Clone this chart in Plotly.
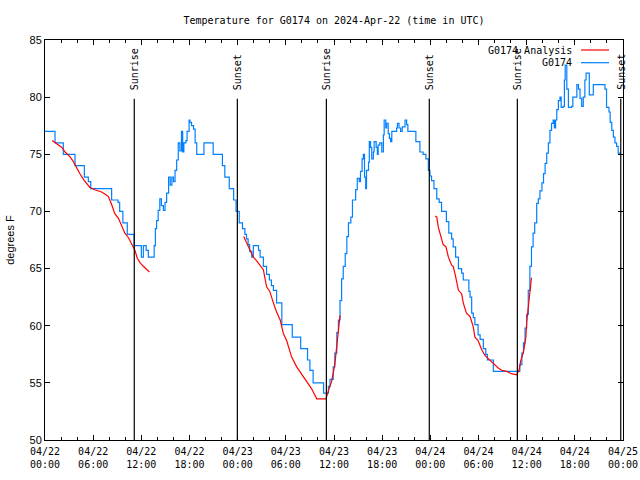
import pandas as pd
import plotly.graph_objects as go

BASE = pd.Timestamp("2024-04-22 00:00")

# G0174 observations (hours since 04/22 00:00 UTC, degrees F)
obs_hours = [0, 1.25, 2.28, 3.74, 4.9, 5.4, 5.7, 8.3, 9.1, 9.3, 9.7, 10.25, 11.1,
             12.0, 12.25, 12.6, 12.87, 13.4, 13.6, 13.75, 13.9, 14.1, 14.3, 14.5, 14.75, 14.95,
             15.15, 15.4, 15.6, 15.8, 16.0, 16.2, 16.4, 16.6, 16.8, 17.0, 17.15, 17.3, 17.55,
             17.7, 17.95, 18.05, 18.25, 18.5, 18.7, 18.9, 19.8, 20.95, 22.1, 22.4, 22.95, 23.5,
             23.8, 24.2, 24.6, 24.9, 25.1, 25.3, 25.5, 25.75, 25.95, 26.6, 26.8, 27.2, 27.6,
             27.95, 28.2, 28.45, 28.85, 29.5, 30.8, 31.85, 32.7, 33.0, 33.4, 34.7, 35.3, 35.5,
             35.9, 36.1, 36.35, 36.55, 36.75, 36.95, 37.15, 37.4, 37.6, 37.8, 38.1, 38.3, 38.7,
             38.9, 39.15, 39.3, 39.5, 39.65, 39.8, 39.95, 40.05, 40.3, 40.4, 40.55, 40.7, 40.9,
             41.0, 41.25, 41.4, 41.5, 41.7, 41.95, 42.15, 42.25, 42.45, 42.55, 42.75, 42.9,
             43.05, 43.2, 43.8, 43.9, 44.1, 44.3, 44.5, 44.85, 45.05, 45.2, 46.2, 46.7, 47.1,
             47.45, 47.75, 47.95, 48.15, 48.45, 48.8, 49.1, 49.4, 50.0, 50.3, 50.65, 50.85,
             51.15, 51.5, 51.9, 52.1, 52.8, 52.95, 53.15, 53.35, 53.55, 53.95, 54.2, 54.6,
             54.9, 55.1, 55.85, 58.95, 59.15, 59.4, 59.6, 59.8, 60.0, 60.2, 60.4, 60.6, 60.8,
             61.0, 61.25, 61.45, 61.65, 61.9, 62.1, 62.3, 62.5, 62.7, 62.9, 63.1, 63.3, 63.45,
             63.6, 63.75, 63.95, 64.15, 64.3, 64.55, 64.7, 64.8, 65.0, 65.2, 65.6, 65.75, 66.1,
             66.25, 66.45, 66.65, 66.85, 67.05, 67.25, 67.4, 67.65, 67.8, 68.1, 68.3, 69.45,
             69.75, 69.95, 70.25, 70.4, 70.6, 70.8, 71.0, 71.2, 71.4, 71.6]
obs_temps = [77, 76, 75, 74, 73, 72.6, 72, 71, 70.8, 70, 69, 68, 67,
             66, 67, 66.6, 66, 66, 67, 68.5, 69.2, 70.1, 71.1, 70.5, 70.1, 70.8,
             71.6, 73.0, 72.3, 73, 72.6, 73.6, 74.5, 76.0, 75.3, 77, 75.2, 76, 76.2,
             77, 78, 77.8, 77.5, 77.2, 76, 75, 76, 75, 74, 73, 72,
             71, 70, 69, 68.5, 68, 67.6, 67.1, 66.5, 66.0, 67.0, 66.6, 66, 65.2, 64.5,
             64, 63.5, 63.1, 62, 60.1, 59, 58, 57, 56.1, 55, 54.1, 54.7, 55.3,
             56.4, 57.6, 59.4, 60.5, 62.2, 64.1, 65.2, 66.3, 67.8, 69, 69.5, 71, 71.9,
             72.9, 72.6, 73.5, 74.6, 75, 73, 72, 73.6, 74.3, 76.1, 75.6, 74.6, 75.2,
             76.1, 75.6, 75, 75.8, 76, 75.2, 76.7, 78, 77.3, 77.7, 76.8, 76.4,
             76.1, 77, 77.3, 77.7, 77.3, 77, 77.4, 78, 77.6, 77, 76.1, 75.2, 75,
             74.6, 73.6, 73.1, 72.7, 72, 71.1, 70.8, 70, 69.1, 68.1, 67.6, 66.9,
             66, 65, 64.6, 64, 63, 62.5, 61.1, 60.7, 60.1, 59.2, 58.8, 58,
             57.5, 57, 56, 56, 56.6, 57.6, 58.5, 59.8, 61, 63.1, 65.2, 66.9, 68.1,
             69, 70.7, 71.1, 71.8, 72.5, 73.3, 74.2, 75.1, 76, 77.1, 77.7, 78, 77.3,
             78, 78.9, 79.7, 80, 79.1, 79.2, 81.5, 82.8, 80.7, 79.1, 79.2, 80, 80,
             81.1, 80.7, 79.9, 79.2, 80, 81.5, 82.1, 82.1, 80.2, 80.2, 81.1, 81.1,
             80.7, 79.1, 78.7, 77.8, 77.1, 76.5, 76, 75.7, 75.1, 75.0]

# G0174 Analysis (three separate runs)
ana1_hours = [0.9, 1.45, 2.1, 2.5, 3.1, 3.5, 3.95, 4.35, 4.9, 5.6, 6.2, 7.05, 7.5, 7.9,
              8.3, 8.7, 9.15, 9.55, 9.95, 10.4, 10.8, 11.2, 11.5, 11.85, 12.25, 12.65, 13.0]
ana1_temps = [76.2, 75.9, 75.6, 75.2, 74.8, 74.4, 73.8, 73.3, 72.7, 72.1, 71.9, 71.7, 71.5, 71.3,
              70.6, 69.8, 69.4, 68.7, 68.1, 67.7, 67.1, 66.6, 65.9, 65.5, 65.2, 64.9, 64.7]
ana2_hours = [24.75, 25.1, 25.55, 25.95, 26.35, 26.8, 27.2, 27.6, 28.0, 28.45, 28.85, 29.3,
              29.7, 30.1, 30.7, 31.35, 32.0, 32.6, 33.2, 33.85, 35.0, 35.3, 35.7, 36.1,
              36.35, 36.55, 36.75]
ana2_temps = [67.8, 67.3, 66.6, 66.0, 65.7, 65.3, 64.9, 63.4, 63.0, 62.0, 61.2, 60.5,
              59.3, 58.7, 57.3, 56.4, 55.7, 55.1, 54.5, 53.6, 53.6, 54.3, 55.1, 56.6,
              58.5, 59.6, 60.9]
ana3_hours = [48.6, 48.8, 49.0, 49.2, 49.4, 49.6, 49.95, 50.25, 50.65, 50.85, 51.15, 51.5,
              51.9, 52.1, 52.5, 52.95, 53.35, 53.55, 53.95, 54.4, 54.8, 55.4, 55.85, 56.45,
              56.9, 57.5, 58.1, 58.75, 59.05, 59.25, 59.6, 59.9, 60.0, 60.2, 60.4, 60.6]
ana3_temps = [69.6, 69.5, 68.6, 68.1, 67.5, 67.1, 66.9, 66.0, 65.3, 65.2, 64.3, 63.1,
              62.8, 62.0, 61.1, 60.8, 59.9, 59.0, 58.7, 57.9, 57.4, 57.0, 56.7, 56.3,
              56.1, 56.0, 55.8, 55.7, 56.1, 56.9, 57.7, 59.0, 60.3, 61.7, 62.8, 64.2]

# Sunrise / sunset events
event_hours = [11.12, 23.96, 35.05, 47.87, 58.84, 71.72]
event_names = ["Sunrise", "Sunset", "Sunrise", "Sunset", "Sunrise", "Sunset"]

tick_hours = [0, 6, 12, 18, 24, 30, 36, 42, 48, 54, 60, 66, 72]
tick_labels = ["04/22<br>00:00", "04/22<br>06:00", "04/22<br>12:00", "04/22<br>18:00",
               "04/23<br>00:00", "04/23<br>06:00", "04/23<br>12:00", "04/23<br>18:00",
               "04/24<br>00:00", "04/24<br>06:00", "04/24<br>12:00", "04/24<br>18:00",
               "04/25<br>00:00"]

RED = "#ff0000"
BLUE = "#0080ff"
MONO = "DejaVu Sans Mono"
SANS = "Liberation Sans"


def to_time(hours):
    return [BASE + pd.Timedelta(hours=h) for h in hours]


fig = go.Figure()

fig.add_trace(go.Scatter(x=to_time(obs_hours), y=obs_temps, mode="lines",
                         line=dict(color=BLUE, width=1.2, shape="hv"),
                         name="G0174", showlegend=False))
for hh, tt in [(ana1_hours, ana1_temps), (ana2_hours, ana2_temps), (ana3_hours, ana3_temps)]:
    fig.add_trace(go.Scatter(x=to_time(hh), y=tt, mode="lines",
                             line=dict(color=RED, width=1.2),
                             name="G0174 Analysis", showlegend=False))

# sunrise / sunset markers
for h, name in zip(event_hours, event_names):
    t = BASE + pd.Timedelta(hours=h)
    fig.add_shape(type="line", x0=t, x1=t, y0=50, y1=79.85, xref="x", yref="y",
                  line=dict(color="black", width=1.2))
    fig.add_annotation(x=t, y=80.45, xref="x", yref="y", text=name, showarrow=False,
                       textangle=-90, xanchor="center", yanchor="bottom",
                       font=dict(family=MONO, size=10, color="black"))

# custom legend (text left of the line sample)
legend_items = [("G0174 Analysis", RED), ("G0174", BLUE)]
for i, (label, col) in enumerate(legend_items):
    ypix = 50 + i * 12.7
    yp = 1 - (ypix - 40) / 400
    fig.add_annotation(x=(574 - 45) / 578, y=yp, xref="paper", yref="paper", text=label,
                       showarrow=False, xanchor="right", yanchor="middle",
                       font=dict(family=MONO, size=10, color="black"))
    fig.add_shape(type="line", x0=(581 - 45) / 578, x1=(609 - 45) / 578, y0=yp, y1=yp,
                  xref="paper", yref="paper", line=dict(color=col, width=1.2))

fig.update_layout(
    width=640, height=480,
    margin=dict(l=45, r=17, t=40, b=40),
    plot_bgcolor="white", paper_bgcolor="white",
    showlegend=False,
    title=dict(text="Temperature for G0174 on 2024-Apr-22 (time in UTC)",
               x=(334) / 640, xanchor="center", y=1 - 20 / 480, yanchor="middle",
               font=dict(family=MONO, size=10, color="black")),
)

fig.update_xaxes(
    type="date", automargin=False,
    range=[BASE, BASE + pd.Timedelta(hours=72)],
    tickvals=to_time(tick_hours), ticktext=tick_labels,
    ticks="inside", ticklen=5, tickcolor="black", tickwidth=1,
    minor=dict(dtick=2 * 3600 * 1000, ticks="inside", ticklen=3, tickcolor="black",
               tick0=BASE, showgrid=False),
    showline=True, linecolor="black", linewidth=1, mirror="allticks",
    showgrid=False, zeroline=False, ticklabelstandoff=2,
    tickfont=dict(family=MONO, size=10, color="black"),
)
fig.update_yaxes(
    automargin=False,
    range=[50, 85], tickvals=[50, 55, 60, 65, 70, 75, 80, 85],
    ticks="inside", ticklen=5, tickcolor="black", tickwidth=1,
    showline=True, linecolor="black", linewidth=1, mirror="allticks",
    showgrid=False, zeroline=False,
    tickfont=dict(family=SANS, size=11, color="black"),
    title=dict(text="degrees F", font=dict(family=SANS, size=11, color="black"), standoff=12),
)

fig.write_html("out.html")
